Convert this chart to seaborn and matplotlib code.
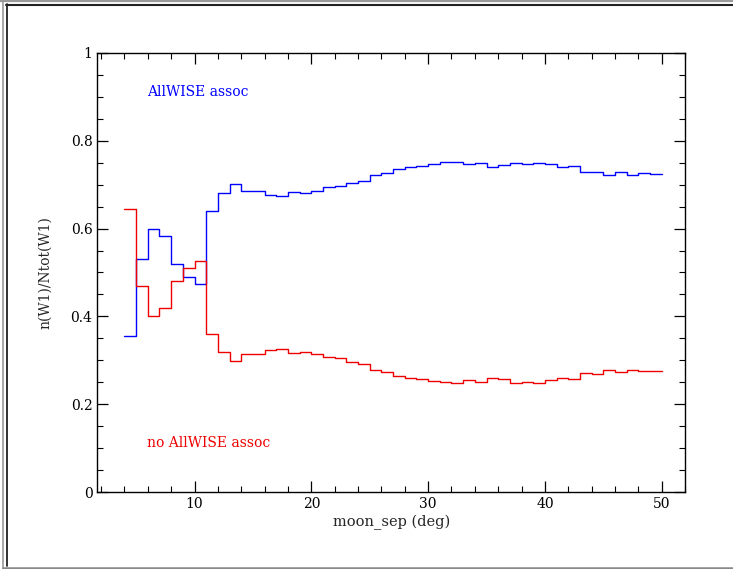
import numpy as np
import pandas as pd
import seaborn as sns
import matplotlib
matplotlib.use("Agg")
import matplotlib.pyplot as plt
from matplotlib.lines import Line2D
from matplotlib.ticker import MultipleLocator

# bin edges (moon separation, deg)
bin_edges = np.arange(4, 51)

# fraction of W1 detections with AllWISE association, per 1-deg bin (4..50)
assoc = [0.356, 0.531, 0.598, 0.583, 0.519, 0.490, 0.474, 0.640, 0.680, 0.702,
         0.686, 0.685, 0.677, 0.674, 0.683, 0.680, 0.686, 0.694, 0.696, 0.703,
         0.708, 0.722, 0.727, 0.736, 0.740, 0.743, 0.748, 0.751, 0.752, 0.747,
         0.749, 0.741, 0.744, 0.750, 0.748, 0.750, 0.746, 0.741, 0.743, 0.729,
         0.730, 0.722, 0.728, 0.721, 0.726, 0.724]
# fraction without AllWISE association
no_assoc = [0.644, 0.470, 0.402, 0.418, 0.481, 0.511, 0.527, 0.361, 0.320, 0.298,
            0.314, 0.315, 0.323, 0.326, 0.317, 0.320, 0.314, 0.307, 0.305, 0.296,
            0.292, 0.279, 0.274, 0.264, 0.260, 0.258, 0.252, 0.250, 0.248, 0.254,
            0.251, 0.260, 0.257, 0.249, 0.251, 0.249, 0.254, 0.260, 0.257, 0.271,
            0.269, 0.277, 0.273, 0.279, 0.275, 0.276]

label_assoc = "AllWISE assoc"
label_no = "no AllWISE assoc"

sns.set_style("ticks")
plt.rcParams["font.family"] = ["DejaVu Serif", "DejaVu Sans"]

fig = plt.figure(figsize=(7.33, 5.69), dpi=100)
ax = fig.add_axes([0.1328, 0.1353, 0.8018, 0.7716])

df = pd.DataFrame({
    "x": np.concatenate([bin_edges, bin_edges]),
    "y": np.concatenate([np.append(assoc, assoc[-1]), np.append(no_assoc, no_assoc[-1])]),
    "s": [label_assoc] * len(bin_edges) + [label_no] * len(bin_edges),
})
sns.lineplot(data=df, x="x", y="y", hue="s", palette={label_assoc: "#0000ff", label_no: "#ee0000"},
             drawstyle="steps-post", estimator=None, lw=1.0, legend=False, ax=ax)

ax.set_xlim(1.68, 52.0)
ax.set_ylim(0, 1)
ax.xaxis.set_major_locator(MultipleLocator(10))
ax.xaxis.set_minor_locator(MultipleLocator(2))
ax.yaxis.set_major_locator(MultipleLocator(0.2))
ax.yaxis.set_minor_locator(MultipleLocator(0.05))
ax.set_yticks([0, 0.2, 0.4, 0.6, 0.8, 1.0])
ax.set_yticklabels(["0", "0.2", "0.4", "0.6", "0.8", "1"])
ax.tick_params(which="both", direction="in", top=True, right=True, labelsize=10, colors="black")
ax.tick_params(which="major", length=8, width=0.9)
ax.tick_params(which="minor", length=4, width=0.8)
for sp in ax.spines.values():
    sp.set_color("black")
    sp.set_linewidth(1.0)

ax.set_xlabel("moon_sep (deg)", fontsize=10.5, labelpad=3)
ax.set_ylabel("n(W1)/Ntot(W1)", fontsize=10, labelpad=13)

ax.text(5.93, 0.911, label_assoc, color="#0000ff", fontsize=10, ha="left", va="center")
ax.text(5.93, 0.112, label_no, color="#ee0000", fontsize=10, ha="left", va="center")

# window frame decorations
W, H = 733.0, 569.0
def fx(p): return p / W
def fy(p): return 1 - p / H
fig.add_artist(Line2D([0, 1], [fy(1), fy(1)], color="#999999", lw=1.6))
fig.add_artist(Line2D([fx(6), 1], [fy(4.8), fy(4.8)], color="#222222", lw=1.5))
fig.add_artist(Line2D([fx(2.7), fx(2.7)], [fy(0), fy(569)], color="#999999", lw=1.2))
fig.add_artist(Line2D([fx(6.8), fx(6.8)], [fy(4), fy(566)], color="#222222", lw=1.3))
fig.add_artist(Line2D([fx(2.7), 1], [fy(567.8), fy(567.8)], color="#888888", lw=1.8))

fig.savefig("out.png", dpi=100)
